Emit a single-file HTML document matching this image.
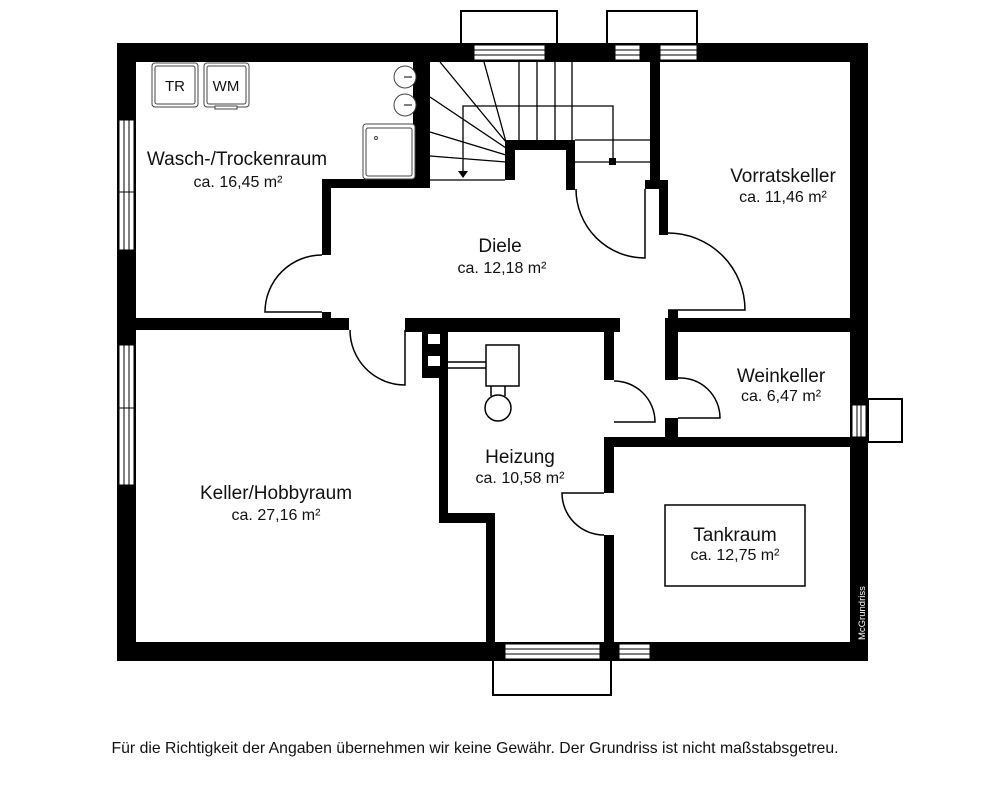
<!DOCTYPE html>
<html><head><meta charset="utf-8"><style>
html,body{margin:0;padding:0;background:#fff;}
svg{display:block;}
text{font-family:"Liberation Sans",Arial,sans-serif;fill:#111;}
.n{font-size:19px;text-anchor:middle;}
.a{font-size:16px;text-anchor:middle;}
</style></head><body>
<svg width="1000" height="808" viewBox="0 0 1000 808" xmlns="http://www.w3.org/2000/svg">
<rect width="1000" height="808" fill="#fff"/>
<g fill="#fff" stroke="#000" stroke-width="2">
<rect x="461" y="11" width="96" height="36"/>
<rect x="607" y="11" width="90" height="36"/>
<rect x="868" y="399" width="34" height="43"/>
<rect x="493" y="659" width="118" height="36"/>
</g>
<g fill="#000">
<rect x="117" y="43" width="751" height="19"/>
<rect x="117" y="43" width="19" height="618"/>
<rect x="850" y="43" width="18" height="618"/>
<rect x="117" y="642" width="751" height="19"/>
<rect x="413" y="62" width="17" height="126"/>
<rect x="322" y="179" width="108" height="9"/>
<rect x="322" y="179" width="9" height="76"/>
<rect x="322" y="312" width="9" height="8"/>
<rect x="136" y="318" width="213" height="12"/>
<rect x="505" y="140" width="70" height="10"/>
<rect x="505" y="140" width="10" height="40"/>
<rect x="566" y="140" width="9" height="50"/>
<rect x="650" y="62" width="10" height="126"/>
<rect x="645" y="180" width="23" height="9"/>
<rect x="659" y="180" width="9" height="55"/>
<rect x="668" y="310" width="10" height="10"/>
<rect x="405" y="318" width="215" height="14"/>
<rect x="422" y="332" width="26" height="46"/>
<rect x="439" y="332" width="9" height="191"/>
<rect x="439" y="513" width="56" height="10"/>
<rect x="486" y="513" width="9" height="130"/>
<rect x="604" y="318" width="10" height="62"/>
<rect x="604" y="437" width="10" height="56"/>
<rect x="604" y="535" width="10" height="108"/>
<rect x="665" y="318" width="185" height="14"/>
<rect x="665" y="318" width="13" height="62"/>
<rect x="665" y="418" width="13" height="19"/>
<rect x="604" y="437" width="246" height="10"/>
</g>
<rect x="428" y="334" width="12" height="10" fill="#fff"/>
<rect x="428" y="356" width="12" height="10" fill="#fff"/>
<g fill="#fff" stroke="#000" stroke-width="1">
<rect x="474" y="45" width="71" height="15"/>
<rect x="615" y="45" width="25" height="15"/>
<rect x="660" y="45" width="37" height="15"/>
<rect x="119" y="120" width="15" height="72"/>
<rect x="119" y="192" width="15" height="58"/>
<rect x="119" y="345" width="15" height="63"/>
<rect x="119" y="408" width="15" height="77"/>
<rect x="852" y="405" width="14" height="32"/>
<rect x="505" y="644" width="95" height="15"/>
<rect x="619" y="644" width="31" height="15"/>
</g>
<g stroke="#000" stroke-width="1">
<line x1="474" y1="50" x2="545" y2="50"/><line x1="474" y1="55" x2="545" y2="55"/>
<line x1="615" y1="50" x2="640" y2="50"/><line x1="615" y1="55" x2="640" y2="55"/>
<line x1="660" y1="50" x2="697" y2="50"/><line x1="660" y1="55" x2="697" y2="55"/>
<line x1="124" y1="120" x2="124" y2="250"/><line x1="129" y1="120" x2="129" y2="250"/>
<line x1="124" y1="345" x2="124" y2="485"/><line x1="129" y1="345" x2="129" y2="485"/>
<line x1="857" y1="405" x2="857" y2="437"/><line x1="861" y1="405" x2="861" y2="437"/>
<line x1="505" y1="649" x2="600" y2="649"/><line x1="505" y1="654" x2="600" y2="654"/>
<line x1="619" y1="649" x2="650" y2="649"/><line x1="619" y1="654" x2="650" y2="654"/>
</g>
<g fill="none" stroke="#000" stroke-width="1.5">
<path d="M322,312 L265,312 A57,57 0 0,1 322,255"/>
<path d="M405,330 L405,385 A55,55 0 0,1 350,330"/>
<path d="M645,189 L645,258 A69,69 0 0,1 576,189"/>
<path d="M668,310 L745,310 A77,77 0 0,0 668,233"/>
<path d="M614,422 L655,422 A41,41 0 0,0 614,381"/>
<path d="M678,418 L720,418 A40,40 0 0,0 678,378"/>
<path d="M604,493 L562,493 A42,42 0 0,0 604,535"/>
</g>
<g stroke="#000" stroke-width="1.3" fill="none">
<line x1="506" y1="142" x2="440" y2="62"/>
<line x1="506" y1="142" x2="484" y2="62"/>
<line x1="506" y1="148" x2="430" y2="97"/>
<line x1="506" y1="155" x2="430" y2="132"/>
<line x1="506" y1="162" x2="430" y2="156"/>
<line x1="519" y1="62" x2="519" y2="140"/>
<line x1="537" y1="62" x2="537" y2="140"/>
<line x1="555" y1="62" x2="555" y2="140"/>
<line x1="572" y1="62" x2="572" y2="140"/>
<line x1="430" y1="180" x2="505" y2="180"/>
<polyline points="463,176 463,106 613,106 613,162"/>
<line x1="575" y1="140" x2="650" y2="140"/>
<line x1="575" y1="162" x2="650" y2="162"/>
</g>
<polygon points="458,171 468,171 463,178" fill="#000"/>
<rect x="609" y="158" width="7" height="7" fill="#000"/>
<g fill="#fff" stroke="#444" stroke-width="1">
<rect x="152" y="63" width="46" height="44" rx="3"/>
<rect x="155" y="66" width="40" height="38" rx="2"/>
<rect x="204" y="63" width="45" height="44" rx="3"/>
<rect x="207" y="66" width="39" height="38" rx="2"/>
<rect x="215" y="106" width="22" height="3"/>
<rect x="363" y="124" width="52" height="55" rx="3"/>
<rect x="366" y="128" width="46" height="48" rx="2"/>
<circle cx="405" cy="77" r="11"/>
<circle cx="405" cy="105" r="11"/>
<circle cx="376" cy="138" r="1.5"/>
</g>
<g stroke="#000" stroke-width="1"><line x1="404" y1="77" x2="412" y2="77"/><line x1="404" y1="105" x2="412" y2="105"/></g>
<text x="175" y="91" style="font-size:15px" text-anchor="middle">TR</text>
<text x="226" y="91" style="font-size:15px" text-anchor="middle">WM</text>
<g fill="#fff" stroke="#000" stroke-width="1.5">
<rect x="486" y="345" width="33" height="41"/>
<circle cx="498" cy="408" r="13"/>
<line x1="448" y1="362" x2="486" y2="362"/><line x1="448" y1="368" x2="486" y2="368"/>
<line x1="491" y1="386" x2="491" y2="396"/><line x1="505" y1="386" x2="505" y2="396"/>
</g>
<rect x="665" y="505" width="140" height="81" fill="none" stroke="#000" stroke-width="1.5"/>
<text class="n" x="237" y="165">Wasch-/Trockenraum</text>
<text class="a" x="238" y="187">ca. 16,45 m²</text>
<text class="n" x="500" y="252">Diele</text>
<text class="a" x="502" y="273">ca. 12,18 m²</text>
<text class="n" x="783" y="182">Vorratskeller</text>
<text class="a" x="783" y="202">ca. 11,46 m²</text>
<text class="n" x="781" y="382">Weinkeller</text>
<text class="a" x="781" y="401">ca. 6,47 m²</text>
<text class="n" x="276" y="499">Keller/Hobbyraum</text>
<text class="a" x="276" y="520">ca. 27,16 m²</text>
<text class="n" x="520" y="463">Heizung</text>
<text class="a" x="520" y="483">ca. 10,58 m²</text>
<text class="n" x="735" y="541">Tankraum</text>
<text class="a" x="735" y="560">ca. 12,75 m²</text>
<text x="865" y="640" transform="rotate(-90 865 640)" style="font-size:9.5px;fill:#fff">McGrundriss</text>
<text x="475" y="753" text-anchor="middle" style="font-size:15.8px">Für die Richtigkeit der Angaben übernehmen wir keine Gewähr. Der Grundriss ist nicht maßstabsgetreu.</text>
</svg>
</body></html>
